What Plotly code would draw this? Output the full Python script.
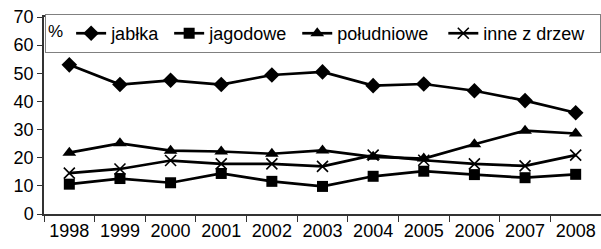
import plotly.graph_objects as go

years = ["1998", "1999", "2000", "2001", "2002", "2003", "2004", "2005", "2006", "2007", "2008"]
jablka = [53.0, 46.0, 47.5, 46.0, 49.4, 50.5, 45.6, 46.2, 43.8, 40.3, 36.0]
jagodowe = [10.6, 12.6, 11.1, 14.4, 11.6, 9.8, 13.4, 15.2, 14.0, 12.9, 14.1]
poludniowe = [21.8, 25.1, 22.5, 22.2, 21.4, 22.6, 20.3, 19.7, 24.8, 29.6, 28.6]
inne = [14.5, 16.0, 19.0, 17.8, 17.8, 16.9, 20.9, 19.1, 17.8, 17.1, 20.9]

names = ["jabłka", "jagodowe", "południowe", "inne z drzew"]
pads = [1, 1, 2, 2]
symbols = ["diamond", "square", "triangle-up", "x-thin"]
sizes = [12, 11, 12, 11]
series = [jablka, jagodowe, poludniowe, inne]

fig = go.Figure()
for name, pad, sym, sz, vals in zip(names, pads, symbols, sizes, series):
    fig.add_trace(go.Scatter(
        x=years, y=vals, name=name + "\u00a0" * pad, mode="lines+markers",
        line=dict(color="black", width=2.7),
        marker=dict(symbol=sym, size=sz, color="black",
                    line=dict(color="black", width=1.6 if sym == "x-thin" else 0)),
    ))

font = "Liberation Sans, Arial, sans-serif"
fig.update_layout(
    width=601, height=249,
    margin=dict(l=44, r=0, t=17, b=35),
    paper_bgcolor="white", plot_bgcolor="white",
    font=dict(family=font, color="black", size=18),
    showlegend=True,
    legend=dict(
        orientation="h", x=0.009, y=1.015, xanchor="left", yanchor="top",
        bgcolor="white", bordercolor="#808080", borderwidth=1,
        font=dict(size=18, family=font),
        title=dict(text="%", side="left", font=dict(size=17, family=font)),
        itemwidth=30, tracegroupgap=0,
    ),
    xaxis=dict(
        type="category", showline=True, linecolor="#333", linewidth=1.5,
        mirror=True, ticks="outside", tickson="boundaries", ticklen=6,
        tickcolor="#333", showgrid=False, tickfont=dict(size=18),
        range=[-0.5, 10.5], fixedrange=True, automargin=False,
    ),
    yaxis=dict(
        range=[0, 70], dtick=10, showline=True, linecolor="#333", linewidth=1.5,
        ticks="outside", ticklen=5, tickcolor="#333", showgrid=False,
        zeroline=False, tickfont=dict(size=18), automargin=False,
    ),
)

fig.write_html("out.html", config={"displayModeBar": False},
               post_script="document.body.style.margin='0';document.body.style.overflow='hidden';")
